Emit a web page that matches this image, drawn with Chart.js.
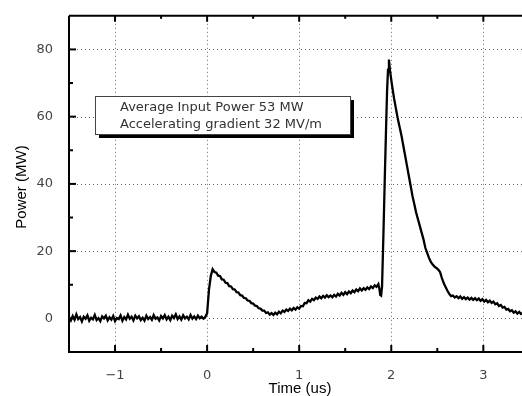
<!DOCTYPE html>
<html>
<head>
<meta charset="utf-8">
<script src="https://cdn.jsdelivr.net/npm/chart.js@4.4.1/dist/chart.umd.min.js"></script>
<style>
html,body{margin:0;padding:0;background:#fff}
#wrap{width:522px;height:396px;position:relative}
</style>
</head>
<body>
<div id="wrap"><canvas id="c" width="522" height="396"></canvas></div>
<script>
const timeUs=[
-1.50,-1.48,-1.46,-1.44,-1.42,-1.40,-1.38,-1.36,-1.34,-1.32,-1.30,-1.28,-1.26,-1.24,-1.22,-1.20,-1.18,-1.16,-1.14,-1.12,
-1.10,-1.08,-1.06,-1.04,-1.02,-1.00,-0.98,-0.96,-0.94,-0.92,-0.90,-0.88,-0.86,-0.84,-0.82,-0.80,-0.78,-0.76,-0.74,-0.72,
-0.70,-0.68,-0.66,-0.64,-0.62,-0.60,-0.58,-0.56,-0.54,-0.52,-0.50,-0.48,-0.46,-0.44,-0.42,-0.40,-0.38,-0.36,-0.34,-0.32,
-0.30,-0.28,-0.26,-0.24,-0.22,-0.20,-0.18,-0.16,-0.14,-0.12,-0.10,-0.08,-0.06,-0.04,-0.02,
0.00,0.02,0.04,0.06,0.08,0.10,0.12,0.14,0.16,0.18,0.20,0.22,0.24,0.26,0.28,0.30,0.32,0.34,0.36,0.38,
0.40,0.42,0.44,0.46,0.48,0.50,0.52,0.54,0.56,0.58,0.60,0.62,0.64,0.66,0.68,0.70,0.72,0.74,0.76,0.78,
0.80,0.82,0.84,0.86,0.88,0.90,0.92,0.94,0.96,0.98,1.00,1.02,1.04,1.06,1.08,1.10,1.12,1.14,1.16,1.18,
1.20,1.22,1.24,1.26,1.28,1.30,1.32,1.34,1.36,1.38,1.40,1.42,1.44,1.46,1.48,1.50,1.52,1.54,1.56,1.58,
1.60,1.62,1.64,1.66,1.68,1.70,1.72,1.74,1.76,1.78,1.80,1.82,1.84,1.86,1.87,1.88,1.89,1.90,1.915,1.93,
1.945,1.955,1.965,1.975,1.985,1.995,2.01,2.03,2.05,2.07,2.09,2.11,2.13,2.15,2.17,2.19,2.21,2.23,2.25,2.27,
2.29,2.31,2.33,2.35,2.37,2.39,2.41,2.43,2.45,2.47,2.49,2.51,2.53,2.55,2.57,2.59,2.61,2.63,2.65,2.67,
2.69,2.71,2.73,2.75,2.77,2.79,2.81,2.83,2.85,2.87,2.89,2.91,2.93,2.95,2.97,2.99,3.01,3.03,3.05,3.07,
3.09,3.11,3.13,3.15,3.17,3.19,3.21,3.23,3.25,3.27,3.29,3.31,3.33,3.35,3.37,3.39,3.41,3.43
];
const powerMW=[
0.3,-0.6,0.7,-0.4,1.2,-0.2,0.4,-0.9,0.5,-0.1,0.9,-0.7,0.2,-0.3,1.0,-0.5,0.1,-0.8,0.6,0.0,
0.8,-0.6,0.3,-0.4,0.7,-0.8,0.1,-0.2,0.9,-0.7,0.4,-0.3,1.1,-0.1,0.5,-0.6,0.8,0.0,0.6,-0.5,
0.2,-0.7,0.8,-0.2,0.4,-0.4,1.0,-0.1,0.3,-0.6,0.7,0.0,1.0,-0.3,0.5,-0.5,0.8,0.1,1.2,-0.2,
0.6,-0.4,0.9,0.0,0.5,-0.3,1.0,-0.1,0.6,-0.2,0.8,0.0,0.5,-0.1,0.4,
1.5,8.5,12.6,14.6,13.8,13.6,12.7,12.6,11.6,11.5,10.6,10.5,9.6,9.5,8.7,8.6,7.8,7.7,6.9,6.8,
6.1,6.0,5.3,5.2,4.5,4.4,3.8,3.7,3.0,2.9,2.3,2.3,1.6,1.8,1.1,1.6,1.0,1.7,1.2,2.0,
1.5,2.3,1.9,2.6,2.2,2.9,2.4,3.1,2.6,3.3,2.9,3.7,3.6,4.6,4.5,5.4,5.0,5.8,5.4,6.2,
5.8,6.5,6.0,6.7,6.2,6.9,6.3,6.8,6.3,7.0,6.5,7.3,6.8,7.6,7.0,7.8,7.2,8.0,7.5,8.3,
7.8,8.6,8.1,8.9,8.3,9.0,8.5,9.2,8.7,9.5,9.0,9.8,9.4,10.2,9.0,7.0,6.8,9.5,25,42,
58,68,74,77,74,72,69,65.5,62.5,59.5,57,54.5,51.5,48.5,45.5,42.5,39.5,36.5,34,31.5,
29.5,27.5,25.5,23.5,21,19.5,18,16.8,16,15.4,15,14.5,13.8,12,10.5,9.3,8.2,7.3,6.6,6.8,
6.2,6.6,6.0,6.5,5.8,6.3,5.7,6.2,5.6,6.1,5.5,6.0,5.4,5.9,5.2,5.7,5.0,5.5,4.8,5.3,
4.6,5.0,4.2,4.5,3.7,4.0,3.2,3.4,2.6,2.8,2.1,2.4,1.7,2.1,1.4,1.9,1.3,1.7
];
const xMajor=[-1,0,1,2,3];
const xMinor=[-0.5,0.5,1.5,2.5];
const yMajor=[0,20,40,60,80];
const yMinor=[-10,10,30,50,70];
const legendLines=['Average Input Power 53 MW','Accelerating gradient 32 MV/m'];

const pts=timeUs.map((t,i)=>({x:t,y:powerMW[i]}));

const frame={
  id:'frame',
  beforeDatasetsDraw(ch){
    const {ctx,chartArea:a,scales:{x,y}}=ch;
    ctx.save();
    ctx.strokeStyle='#666';ctx.lineWidth=1;ctx.setLineDash([1,3]);
    xMajor.forEach(v=>{const p=Math.round(x.getPixelForValue(v))+0.5;ctx.beginPath();ctx.moveTo(p,a.top);ctx.lineTo(p,a.bottom);ctx.stroke();});
    yMajor.forEach(v=>{const p=Math.round(y.getPixelForValue(v))+0.5;ctx.beginPath();ctx.moveTo(a.left,p);ctx.lineTo(a.right,p);ctx.stroke();});
    ctx.restore();
  },
  afterDatasetsDraw(ch){
    const {ctx,chartArea:a,scales:{x,y}}=ch;
    ctx.save();
    ctx.strokeStyle='#000';ctx.lineWidth=2;
    ctx.beginPath();ctx.moveTo(a.left,a.top);ctx.lineTo(a.left,a.bottom);ctx.lineTo(a.right,a.bottom);ctx.stroke();
    ctx.beginPath();ctx.moveTo(a.left,a.top);ctx.lineTo(a.right,a.top);ctx.stroke();
    const tx=(v,len)=>{const p=x.getPixelForValue(v);
      ctx.beginPath();ctx.moveTo(p,a.bottom);ctx.lineTo(p,a.bottom-len);ctx.stroke();
      ctx.beginPath();ctx.moveTo(p,a.top);ctx.lineTo(p,a.top+len-1);ctx.stroke();};
    xMajor.forEach(v=>tx(v,7));xMinor.forEach(v=>tx(v,4));
    const ty=(v,len)=>{const p=y.getPixelForValue(v);ctx.beginPath();ctx.moveTo(a.left,p);ctx.lineTo(a.left+len,p);ctx.stroke();};
    yMajor.forEach(v=>ty(v,7));yMinor.forEach(v=>ty(v,4));
    // legend box
    const bx=95,by=96,bw=255,bh=38;
    ctx.fillStyle='#000';ctx.fillRect(bx+4,by+4,bw,bh);
    ctx.fillStyle='#fff';ctx.fillRect(bx,by,bw,bh);
    ctx.strokeStyle='#444';ctx.lineWidth=1;ctx.strokeRect(bx+0.5,by+0.5,bw,bh);
    ctx.fillStyle='#333';ctx.font='13px "DejaVu Sans"';ctx.textBaseline='middle';
    ctx.fillText(legendLines[0],120,108);ctx.fillText(legendLines[1],120,125);
    // axis titles
    ctx.font='15px "Liberation Sans"';ctx.fillStyle='#000';ctx.textAlign='center';
    ctx.fillText('Time (us)',300,389);
    ctx.translate(22,187);ctx.rotate(-Math.PI/2);ctx.fillText('Power (MW)',0,0);
    ctx.restore();
  }
};

new Chart(document.getElementById('c'),{
  type:'line',
  data:{datasets:[{data:pts,borderColor:'#000',borderWidth:2.3,pointRadius:0,tension:0,fill:false}]},
  options:{
    responsive:false,animation:false,
    layout:{padding:{top:13,right:0,left:0,bottom:0}},
    plugins:{legend:{display:false},tooltip:{enabled:false}},
    scales:{
      x:{type:'linear',min:-1.5,max:3.42,
        afterBuildTicks:s=>{s.ticks=xMajor.map(v=>({value:v}));},
        afterFit:s=>{s.height=44;},
        grid:{display:false},border:{display:false},
        ticks:{color:'#444',font:{family:'DejaVu Sans',size:13},padding:8,callback:v=>v<0?'\u2212'+Math.abs(v):String(v)}},
      y:{min:-10,max:90,
        afterBuildTicks:s=>{s.ticks=yMajor.map(v=>({value:v}));},
        afterFit:s=>{s.width=69;},
        grid:{display:false},border:{display:false},
        ticks:{color:'#444',font:{family:'DejaVu Sans',size:13},padding:8}}
    }
  },
  plugins:[frame]
});
</script>
</body>
</html>
